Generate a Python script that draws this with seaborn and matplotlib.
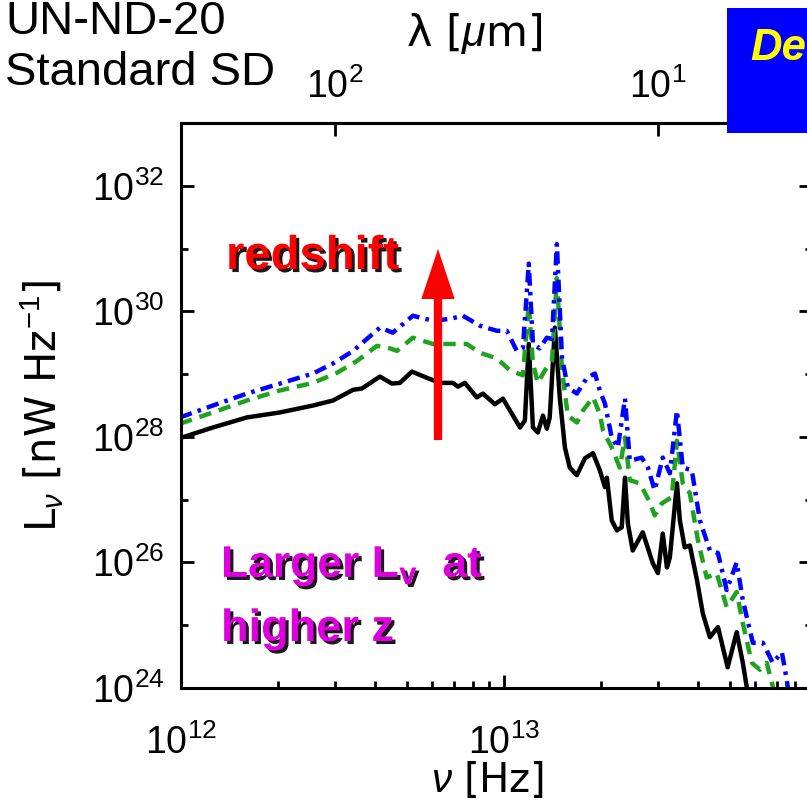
import numpy as np
import pandas as pd
import matplotlib
matplotlib.use("Agg")
import matplotlib.pyplot as plt
import seaborn as sns
from matplotlib import patheffects as pe
from matplotlib.patches import Rectangle
from matplotlib.ticker import FixedLocator, LogLocator, NullLocator, NullFormatter, LogFormatterSciNotation

# ---------------- data (log10 values) ----------------
black_log_nu = [12.003, 12.099, 12.204, 12.307, 12.409, 12.471, 12.533, 12.560, 12.616, 12.653,
                12.678, 12.715, 12.762, 12.802, 12.842, 12.858, 12.879, 12.916, 12.935, 12.972,
                12.997, 13.028, 13.050, 13.065, 13.077, 13.090, 13.105, 13.121, 13.133, 13.142,
                13.158, 13.173, 13.189, 13.204, 13.226, 13.251, 13.276, 13.297, 13.313, 13.319,
                13.334, 13.350, 13.365, 13.375, 13.384, 13.399, 13.430, 13.461, 13.477, 13.492,
                13.505, 13.514, 13.536, 13.545, 13.560, 13.576, 13.598, 13.616, 13.638, 13.663,
                13.693, 13.721, 13.740, 13.752, 13.762]
black_log_L = [27.99, 28.15, 28.31, 28.39, 28.50, 28.58, 28.75, 28.77, 28.96, 28.85,
               28.86, 29.04, 28.94, 28.86, 28.86, 28.80, 28.86, 28.63, 28.69, 28.52,
               28.61, 28.34, 28.15, 28.26, 29.48, 28.15, 28.07, 28.34, 28.13, 28.31,
               29.74, 28.63, 27.83, 27.51, 27.39, 27.66, 27.74, 27.47, 27.20, 27.35,
               26.67, 26.51, 26.56, 27.35, 26.62, 26.19, 26.48, 25.99, 25.83, 26.46,
               25.92, 26.08, 27.26, 26.67, 26.24, 26.27, 25.72, 25.19, 24.81, 24.97,
               24.33, 24.89, 24.40, 24.02, 23.81]

green_log_nu = [11.997, 12.099, 12.204, 12.307, 12.409, 12.483, 12.545, 12.607, 12.647, 12.669,
                12.718, 12.780, 12.842, 12.885, 12.926, 12.978, 13.019, 13.059, 13.077, 13.090,
                13.105, 13.127, 13.149, 13.164, 13.180, 13.198, 13.226, 13.245, 13.276, 13.297,
                13.307, 13.334, 13.359, 13.375, 13.390, 13.421, 13.452, 13.467, 13.489, 13.520,
                13.536, 13.554, 13.576, 13.601, 13.628, 13.659, 13.690, 13.721, 13.740, 13.768,
                13.793, 13.814, 13.833, 13.842]
green_log_L = [28.21, 28.39, 28.58, 28.74, 28.86, 29.02, 29.21, 29.45, 29.41, 29.37,
               29.58, 29.48, 29.48, 29.48, 29.34, 29.25, 29.06, 28.98, 30.12, 29.17,
               28.86, 29.06, 29.21, 30.53, 29.06, 28.34, 28.23, 28.42, 28.63, 28.37,
               28.10, 27.83, 27.51, 27.99, 27.31, 27.26, 26.96, 26.75, 26.94, 27.04,
               27.94, 27.26, 27.10, 26.35, 25.76, 25.83, 25.29, 25.53, 25.03, 24.40,
               24.29, 24.40, 24.02, 23.81]

blue_log_nu = [11.997, 12.099, 12.204, 12.307, 12.409, 12.471, 12.533, 12.616, 12.656, 12.718,
               12.780, 12.833, 12.873, 12.926, 12.978, 13.009, 13.040, 13.059, 13.077, 13.090,
               13.111, 13.133, 13.149, 13.164, 13.180, 13.198, 13.226, 13.257, 13.282, 13.297,
               13.313, 13.334, 13.353, 13.375, 13.390, 13.427, 13.446, 13.467, 13.492, 13.514,
               13.536, 13.554, 13.582, 13.607, 13.638, 13.663, 13.690, 13.721, 13.740, 13.771,
               13.802, 13.833, 13.861, 13.876, 13.885]
blue_log_L = [28.31, 28.50, 28.69, 28.85, 29.01, 29.17, 29.37, 29.74, 29.66, 29.93,
              29.85, 29.88, 29.93, 29.77, 29.69, 29.69, 29.37, 29.42, 30.76, 29.48,
              29.41, 29.58, 29.56, 31.07, 29.26, 28.79, 28.69, 28.94, 29.01, 28.74,
              28.53, 27.99, 27.83, 28.61, 27.62, 27.67, 27.51, 27.15, 27.67, 27.42,
              28.42, 27.51, 27.47, 26.67, 26.19, 26.15, 25.56, 26.00, 25.40, 24.72,
              24.72, 24.40, 24.57, 24.13, 23.81]

y_major_ticks = [1e24, 1e26, 1e28, 1e30, 1e32]
y_minor_ticks = [1e25, 1e27, 1e29, 1e31, 1e33]
x_major_ticks = [1e12, 1e13]
lambda_ticks = [1e2, 1e1]   # micron

# ---------------- style ----------------
sns.set_style("ticks")
plt.rcParams["font.family"] = ["Liberation Sans", "DejaVu Sans"]
plt.rcParams["mathtext.fontset"] = "custom"
plt.rcParams["mathtext.rm"] = "Liberation Sans"
plt.rcParams["mathtext.it"] = "Liberation Sans:italic"
plt.rcParams["mathtext.bf"] = "Liberation Sans:bold"
for k in ["text.color", "axes.labelcolor", "xtick.color", "ytick.color", "axes.edgecolor"]:
    plt.rcParams[k] = "black"

W, H = 807, 808
fig = plt.figure(figsize=(W / 100, H / 100), dpi=100)
fig.patch.set_facecolor("white")

def fx(px):
    return px / W

def fy(py):
    return 1 - py / H

AX_L, AX_R, AX_T, AX_B = 181, 812, 123, 688
ax = fig.add_axes([fx(AX_L), fy(AX_B), (AX_R - AX_L) / W, (AX_B - AX_T) / H])

def axfx(px):
    return (px - AX_L) / (AX_R - AX_L)

def axfy(py):
    return (AX_B - py) / (AX_B - AX_T)

series = [
    ("black", black_log_nu, black_log_L, "black", "-"),
    ("green", green_log_nu, green_log_L, "#1fa31f", (0, (2.8, 1.8))),
    ("blue", blue_log_nu, blue_log_L, "#0000ff", (0, (2.8, 1.4, 0.8, 1.4))),
]
for name, lnu, lL, col, ls in series:
    df = pd.DataFrame({"nu": 10.0 ** np.array(lnu), "L": 10.0 ** np.array(lL)})
    sns.lineplot(data=df, x="nu", y="L", ax=ax, color=col, linestyle=ls,
                 linewidth=3.2, estimator=None, sort=False, legend=False)

ax.set_xscale("log")
ax.set_yscale("log")
ax.set_xlim(1e12, 9e13)
ax.set_ylim(1e24, 1e33)

ax.xaxis.set_major_locator(FixedLocator(x_major_ticks))
ax.xaxis.set_minor_locator(LogLocator(base=10, subs=np.arange(2, 10)))
ax.yaxis.set_major_locator(FixedLocator(y_major_ticks))
ax.yaxis.set_minor_locator(FixedLocator(y_minor_ticks))
ax.xaxis.set_major_formatter(LogFormatterSciNotation())
ax.yaxis.set_major_formatter(LogFormatterSciNotation())
ax.xaxis.set_minor_formatter(NullFormatter())
ax.yaxis.set_minor_formatter(NullFormatter())

for s in ax.spines.values():
    s.set_linewidth(2.2)
    s.set_color("black")

ax.tick_params(which="both", direction="in", top=False, right=True, color="black", width=2.0)
ax.tick_params(which="major", length=9.5, labelsize=27, pad=12)
ax.tick_params(which="minor", length=5)
ax.tick_params(axis="x", which="major", pad=26)

ax.set_xlabel(r"$\nu$ [Hz]", fontsize=29, family=["DejaVu Sans"])
ax.xaxis.set_label_coords(axfx(488), axfy(780))
ax.xaxis.label.set_va("center")
ax.set_ylabel(r"L$_\nu$ [nW Hz$^{-1}$]", fontsize=30, family=["DejaVu Sans"])
ax.yaxis.set_label_coords(axfx(42), 0.5)
ax.yaxis.label.set_va("center")

c = 2.998e14  # micron * Hz
sec = ax.secondary_xaxis("top", functions=(lambda v: c / v, lambda l: c / l))
sec.xaxis.set_major_locator(FixedLocator(lambda_ticks))
sec.xaxis.set_minor_locator(NullLocator())
sec.xaxis.set_major_formatter(LogFormatterSciNotation())
sec.tick_params(which="major", direction="in", length=9.5, width=2.0, labelsize=27, pad=12,
                color="black", labelcolor="black")
sec.spines["top"].set_linewidth(2.2)
sec.set_xlabel(r"λ [$\mu$m]", fontsize=31, family=["DejaVu Sans"])
sec.xaxis.set_label_coords(axfx(474), axfy(34), transform=ax.transAxes)
sec.xaxis.label.set_va("center")

# ---------------- annotations ----------------
shadow = [pe.withSimplePatchShadow(offset=(2.2, -2.2), shadow_rgbFace="black", alpha=0.9)]

ax.annotate("", xy=(axfx(438), axfy(249)), xycoords="axes fraction",
            xytext=(axfx(438), axfy(440)), textcoords="axes fraction",
            arrowprops=dict(arrowstyle="simple,head_length=3.6,head_width=2.4,tail_width=0.6",
                            color="#ff0000", mutation_scale=10, shrinkA=0, shrinkB=0, lw=0))

fig.text(fx(226), fy(269), "redshift", color="#ff0000", fontsize=34, fontweight="bold",
         va="baseline", ha="left", path_effects=shadow)
fig.text(fx(221), fy(577), r"Larger L$_{\mathbf{v}}$  at", color="#dd00dd", fontsize=32,
         fontweight="bold", va="baseline", ha="left", path_effects=shadow)
fig.text(fx(221), fy(641), "higher z", color="#dd00dd", fontsize=32.5,
         fontweight="bold", va="baseline", ha="left", path_effects=shadow)

fig.text(fx(5), fy(34), "UN-ND-20", fontsize=34, va="baseline", ha="left")
fig.text(fx(5), fy(85), "Standard SD", fontsize=34, va="baseline", ha="left")

fig.add_artist(Rectangle((fx(727), fy(133)), fx(120), (133 - 8) / H,
                         transform=fig.transFigure, facecolor="#0000ff", edgecolor="none", zorder=5))
fig.text(fx(750), fy(60), "De", color="#ffff00", fontsize=31.5, fontweight="bold",
         fontstyle="italic", va="baseline", ha="left", zorder=6)

fig.savefig("out.png", dpi=100)
